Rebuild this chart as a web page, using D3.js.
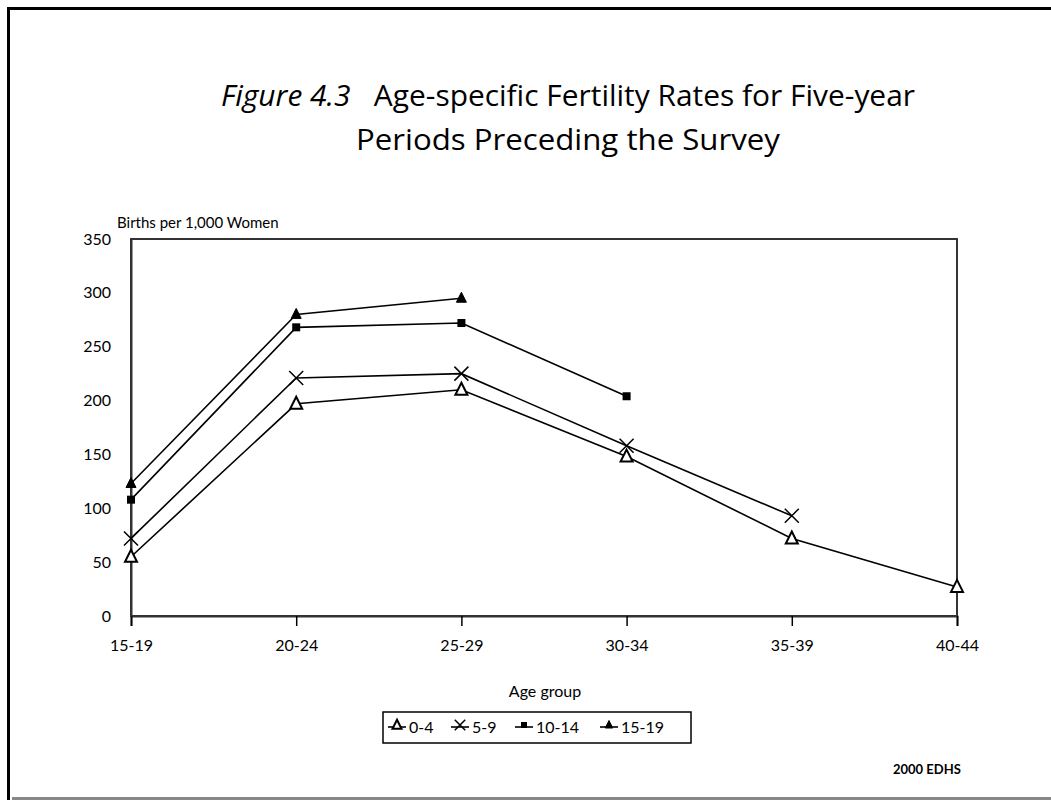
<!DOCTYPE html>
<html>
<head>
<meta charset="utf-8">
<script src="https://cdn.jsdelivr.net/npm/d3@7"></script>
<style>
  body { margin: 0; background: #fff; }
  text { font-family: Lato, "Open Sans", sans-serif; fill: #000; }
</style>
</head>
<body>
<div id="chart"></div>
<script>
// data
var ageGroups = ["15-19", "20-24", "25-29", "30-34", "35-39", "40-44"];
var yTicks = [0, 50, 100, 150, 200, 250, 300, 350];
var periods = ["0-4", "5-9", "10-14", "15-19"];
var rates0to4 = [55, 197, 210, 148, 72, 27];
var rates5to9 = [72, 221, 225, 158, 93, null];
var rates10to14 = [108, 268, 272, 204, null, null];
var rates15to19 = [123, 280, 295, null, null, null];

var width = 1051, height = 800;
var margin = ({top: 239, right: 94, bottom: 184, left: 131});

var series = [
  {name: periods[0], values: rates0to4, marker: "triOpen"},
  {name: periods[1], values: rates5to9, marker: "cross"},
  {name: periods[2], values: rates10to14, marker: "square"},
  {name: periods[3], values: rates15to19, marker: "triFill"}
];

var svg = d3.select("#chart")
  .append("svg")
    .attr("width", width)
    .attr("height", height);

// page frame
svg.append("rect").attr("x", 0).attr("y", 0).attr("width", width).attr("height", height).attr("fill", "#fff");
svg.append("line").attr("x1", 7).attr("x2", width).attr("y1", 8.5).attr("y2", 8.5)
  .attr("stroke", "#000").attr("stroke-width", 3);
svg.append("line").attr("x1", 8.5).attr("x2", 8.5).attr("y1", 7).attr("y2", height)
  .attr("stroke", "#000").attr("stroke-width", 3);
svg.append("line").attr("x1", 12).attr("x2", width).attr("y1", 798.5).attr("y2", 798.5)
  .attr("stroke", "#888").attr("stroke-width", 3);

// title
var title = svg.append("text")
  .attr("x", 568).attr("y", 106)
  .attr("text-anchor", "middle")
  .style("font-family", "'Open Sans', sans-serif")
  .style("font-size", "30px")
  .attr("textLength", 694)
  .attr("lengthAdjust", "spacingAndGlyphs");
title.append("tspan").style("font-style", "italic").text("Figure 4.3");
title.append("tspan").text("\u00a0\u00a0\u00a0Age-specific Fertility Rates for Five-year");
svg.append("text")
  .attr("x", 568).attr("y", 150)
  .attr("text-anchor", "middle")
  .style("font-family", "'Open Sans', sans-serif")
  .style("font-size", "30px")
  .attr("textLength", 424)
  .attr("lengthAdjust", "spacingAndGlyphs")
  .text("Periods Preceding the Survey");

var x = d3.scalePoint()
  .domain(ageGroups)
  .range([margin.left, width - margin.right]);
var y = d3.scaleLinear()
  .domain([0, 350])
  .range([height - margin.bottom, margin.top]);

// plot frame
svg.append("rect")
  .attr("x", margin.left).attr("y", margin.top)
  .attr("width", width - margin.right - margin.left)
  .attr("height", height - margin.bottom - margin.top)
  .attr("fill", "none").attr("stroke", "#333").attr("stroke-width", 2);

var xAxis = g => g
  .attr("transform", `translate(0,${height - margin.bottom})`)
  .call(d3.axisBottom(x).tickSizeOuter(0).tickSize(10).tickPadding(14))
  .call(g => g.select(".domain").attr("stroke", "#333").attr("stroke-width", 2))
  .call(g => g.selectAll(".tick line").attr("stroke", "#000").attr("stroke-width", 1.5))
  .call(g => g.selectAll(".tick text").style("font-size", "16px").attr("font-family", null));

var yAxis = g => g
  .attr("transform", `translate(${margin.left},0)`)
  .call(d3.axisLeft(y).tickValues(yTicks).tickSize(0).tickPadding(20))
  .call(g => g.select(".domain").attr("stroke", "#333").attr("stroke-width", 2))
  .call(g => g.selectAll(".tick text").style("font-size", "16px").attr("font-family", null));

svg.append("g").call(xAxis);
svg.append("g").call(yAxis);

svg.append("text")
  .attr("x", 117).attr("y", 228)
  .style("font-size", "15px")
  .text("Births per 1,000 Women");

svg.append("text")
  .attr("x", 545).attr("y", 697)
  .attr("text-anchor", "middle")
  .style("font-size", "16px")
  .text("Age group");

svg.append("text")
  .attr("x", 893).attr("y", 774)
  .style("font-size", "13px")
  .style("font-weight", "bold")
  .text("2000 EDHS");

// markers
function drawMarker(g, type, cx, cy, k) {
  k = k || 1;
  if (type === "triOpen") {
    g.append("path")
      .attr("d", `M${cx},${cy - 7 * k}L${cx + 6 * k},${cy + 5 * k}L${cx - 6 * k},${cy + 5 * k}Z`)
      .attr("fill", "#fff").attr("stroke", "#000").attr("stroke-width", 2);
  } else if (type === "cross") {
    g.append("path")
      .attr("d", `M${cx - 7 * k},${cy - 7 * k}L${cx + 7 * k},${cy + 7 * k}M${cx - 7 * k},${cy + 7 * k}L${cx + 7 * k},${cy - 7 * k}`)
      .attr("stroke", "#000").attr("stroke-width", 1.5);
  } else if (type === "square") {
    g.append("rect")
      .attr("x", cx - 4 * k).attr("y", cy - 4 * k).attr("width", 8 * k).attr("height", 8 * k)
      .attr("fill", "#000");
  } else {
    g.append("path")
      .attr("d", `M${cx},${cy - 6 * k}L${cx + 5 * k},${cy + 4 * k}L${cx - 5 * k},${cy + 4 * k}Z`)
      .attr("fill", "#000").attr("stroke", "#000").attr("stroke-width", 1);
  }
}

var line = d3.line()
  .defined(d => d.v != null)
  .x(d => x(d.age))
  .y(d => y(d.v));

series.forEach(function(s) {
  var pts = s.values.map((v, i) => ({age: ageGroups[i], v: v}));
  svg.append("path")
    .datum(pts)
    .attr("fill", "none")
    .attr("stroke", "#000")
    .attr("stroke-width", 1.6)
    .attr("d", line);
  var mg = svg.append("g");
  pts.filter(d => d.v != null).forEach(d => drawMarker(mg, s.marker, x(d.age), y(d.v)));
});

// legend
var legend = svg.append("g");
legend.append("rect")
  .attr("x", 383).attr("y", 712).attr("width", 308).attr("height", 31)
  .attr("fill", "#fff").attr("stroke", "#000").attr("stroke-width", 1.5);
var legendX = [388, 451, 515, 600];
series.forEach(function(s, i) {
  var lx = legendX[i], ly = 727;
  legend.append("line")
    .attr("x1", lx).attr("x2", lx + 18).attr("y1", ly).attr("y2", ly)
    .attr("stroke", "#000").attr("stroke-width", 1.6);
  drawMarker(legend, s.marker, lx + 9, ly - 2, 0.75);
  legend.append("text")
    .attr("x", lx + 21).attr("y", ly + 6)
    .style("font-size", "16px")
    .text(s.name);
});
</script>
</body>
</html>
